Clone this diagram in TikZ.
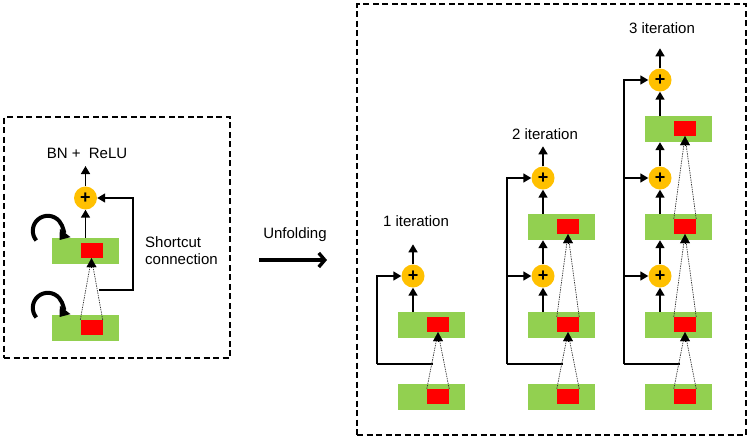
\documentclass[tikz,border=0pt]{standalone}
\usepackage{fontspec}
\setmainfont{Liberation Sans}
\usetikzlibrary{arrows.meta,calc}
\definecolor{gbox}{RGB}{146,208,80}
\definecolor{rbox}{RGB}{255,0,0}
\definecolor{ybox}{RGB}{255,192,0}
\begin{document}
\begin{tikzpicture}[x=1pt,y=-1pt,font=\fontsize{15}{17}\selectfont]
\tikzset{
 greenbox/.style={fill=gbox,draw=none,minimum width=67pt,minimum height=26pt,inner sep=0pt},
 redbox/.style={fill=rbox,draw=none,minimum width=22pt,minimum height=15pt,inner sep=0pt},
 sumnode/.style={circle,fill=ybox,minimum size=23pt,inner sep=0pt,font=\fontsize{18}{18}\selectfont\bfseries},
 conn/.style={line width=1.6pt,-{Triangle[width=9pt,length=8pt]}},
 plainline/.style={line width=1.6pt},
 dotline/.style={line width=0.7pt,dash pattern=on 1.4pt off 1pt,black!80},
 dothead/.style={line width=0.3pt,-{Triangle[width=10pt,length=9pt]}},
 loopline/.style={line width=4pt,-{Triangle[width=13pt,length=9pt]}},
 frame/.style={line width=1.3pt,dash pattern=on 6pt off 3.5pt},
 lbl/.style={inner sep=0pt}
}
\useasboundingbox (0,0) rectangle (749,440);

% ---------- left frame ----------
\node[frame,draw,minimum width=226pt,minimum height=241pt,inner sep=0pt] (lframe) at (117,237.5) {};
\node[greenbox] (lg2) at (85.5,251) {};
\node[redbox] (lr2) at (91.5,250.5) {};
\node[greenbox] (lg1) at (85.5,328) {};
\node[redbox] (lr1) at (91.5,327.5) {};
\node[sumnode] (ls) at (85.5,198) {+};
\coordinate (lout) at (85.5,166);
\node[lbl] (lbn) at (87,153) {BN +\ \ ReLU};
\draw[conn] (lg2.north -| ls.south) -- (ls.south);
\draw[conn] (ls.north) -- (lout);
\coordinate (lsc) at (99,290);
\draw[conn] (lsc) -- ++(34,0) |- (ls.east);
\draw[dotline] (lr1.north west) -- (lr2.south);
\draw[dotline] (lr1.north east) -- (lr2.south);
\draw[dothead] ($(lr2.south)+(0,10)$) -- (lr2.south);
\draw[loopline] ($(lg2.north west)+(-4,-7)+(140:15)$) arc[start angle=140,end angle=398,radius=15];
\draw[loopline] ($(lg1.north west)+(-4,-7)+(140:15)$) arc[start angle=140,end angle=398,radius=15];
\node[lbl,align=left,anchor=west] (lshort) at (145,250.5) {Shortcut\\connection};

% ---------- unfolding ----------
\coordinate (ua) at (259,260);
\coordinate (ub) at (327,260);
\draw[line width=3.4pt,-{Straight Barb[length=6pt,width=14pt]}] (ua) -- (ub);
\node[lbl] (ulbl) at (295,235) {Unfolding};

% ---------- right frame ----------
\node[frame,draw,minimum width=389pt,minimum height=431pt,inner sep=0pt] (rframe) at (551.5,219.5) {};

\foreach \c/\L/\n/\lx/\ly in {1/398/2/416/221,2/528/3/545/134,3/645/4/662/28}{
  \foreach \r in {1,...,\n}{
    \pgfmathsetmacro{\T}{{384,312,214,116}[\r-1]}
    \node[greenbox] (g\c\r) at (\L+33.5,\T+13) {};
    \node[redbox] (r\c\r) at (\L+40,\T+12.5) {};
  }
  \foreach \r in {2,...,\n}{
    \pgfmathsetmacro{\T}{{384,312,214,116}[\r-1]}
    \node[sumnode] (s\c\r) at (\L+15,\T-36) {+};
  }
  \coordinate (sc\c) at (\L+35,364);
  \coordinate (v\c) at (\L-21,364);
  \draw[plainline] (sc\c) -- (v\c);
  \foreach \r in {2,...,\n}{
    \pgfmathtruncatemacro{\p}{\r-1}
    \draw[conn] (g\c\r.north -| s\c\r.south) -- (s\c\r.south);
    \draw[conn] (v\c) |- (s\c\r.west);
    \draw[dotline] (r\c\p.north west) -- (r\c\r.south);
    \draw[dotline] (r\c\p.north east) -- (r\c\r.south);
    \draw[dothead] ($(r\c\r.south)+(0,10)$) -- (r\c\r.south);
  }
  \foreach \r in {2,...,\n}{
    \pgfmathtruncatemacro{\q}{\r+1}
    \ifnum\r<\n
      \draw[conn] (s\c\r.north) -- (s\c\r.north |- g\c\q.south);
    \else
      \coordinate (o\c) at ($(s\c\r.north)+(0,-20)$);
      \draw[conn] (s\c\r.north) -- (o\c);
    \fi
  }
  \node[lbl] (t\c) at (\lx,\ly) {\c\ iteration};
}
\end{tikzpicture}
\end{document}
